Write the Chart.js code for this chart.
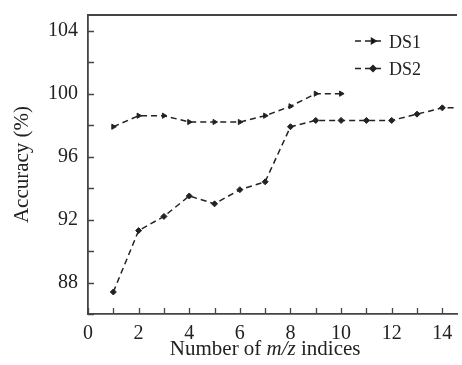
<!DOCTYPE html>
<html>
<head>
<meta charset="utf-8">
<script src="https://cdn.jsdelivr.net/npm/chart.js@4/dist/chart.umd.min.js"></script>
<style>
  html, body { margin: 0; padding: 0; background: #fff; }
  #wrap { width: 462px; height: 365px; }
</style>
</head>
<body>
<div id="wrap"><canvas id="chart" width="462" height="365"></canvas></div>
<script>
// Données
const xValues = [1, 2, 3, 4, 5, 6, 7, 8, 9, 10, 11, 12, 13, 14, 15];
const ds1Values = [97.9, 98.6, 98.6, 98.2, 98.2, 98.2, 98.6, 99.2, 100.0, 100.0];
const ds2Values = [87.4, 91.3, 92.2, 93.5, 93.0, 93.9, 94.4, 97.9, 98.3, 98.3, 98.3, 98.3, 98.7, 99.1, 99.1];
const seriesNames = ["DS1", "DS2"];
const yLabelTicks = [88, 92, 96, 100, 104];
const xLabelTicks = [0, 2, 4, 6, 8, 10, 12, 14];

const FONT = "'Liberation Serif', 'Times New Roman', serif";
const INK = "#222";

const toPoints = (vals) => vals.map((v, i) => ({ x: xValues[i], y: v }));

// Plugin : cadre du haut, graduations intérieures, légende et titre de l'axe x
const decorations = {
    id: "decorations",
    afterDraw(chart) {
        const ctx = chart.ctx;
        const area = chart.chartArea;
        const xs = chart.scales.x;
        const ys = chart.scales.y;
        ctx.save();
        ctx.strokeStyle = "#444";
        ctx.lineWidth = 1.8;
        ctx.beginPath();
        ctx.moveTo(area.left, area.top);
        ctx.lineTo(area.right, area.top);
        ctx.stroke();

        // graduations vers l'intérieur
        ctx.lineWidth = 1.3;
        ctx.beginPath();
        xs.ticks.forEach((t) => {
            const px = Math.round(xs.getPixelForValue(t.value)) + 0.5;
            ctx.moveTo(px, area.bottom);
            ctx.lineTo(px, area.bottom - 6);
        });
        ys.ticks.forEach((t) => {
            const py = Math.round(ys.getPixelForValue(t.value)) + 0.5;
            ctx.moveTo(area.left, py);
            ctx.lineTo(area.left + 6, py);
        });
        ctx.stroke();

        // légende
        chart.data.datasets.forEach((ds, i) => {
            const ly = 41 + i * 27.5;
            ctx.strokeStyle = INK;
            ctx.lineWidth = 1.5;
            ctx.setLineDash([6, 4]);
            ctx.beginPath();
            ctx.moveTo(355, ly);
            ctx.lineTo(383, ly);
            ctx.stroke();
            ctx.setLineDash([]);
            Chart.helpers.drawPoint(ctx, {
                pointStyle: ds.pointStyle,
                rotation: ds.pointRotation || 0,
                radius: 3,
                borderWidth: 1
            }, 373, ly);
            ctx.fillStyle = INK;
            ctx.font = "18px " + FONT;
            ctx.textAlign = "left";
            ctx.textBaseline = "alphabetic";
            ctx.fillText(ds.label, 389, ly + 6.5);
        });

        // titre de l'axe x avec m/z en italique
        const parts = [
            { text: "Number of ", font: "21px " + FONT },
            { text: "m/z", font: "italic 21px " + FONT },
            { text: " indices", font: "21px " + FONT }
        ];
        let total = 0;
        parts.forEach((p) => { ctx.font = p.font; p.w = ctx.measureText(p.text).width; total += p.w; });
        let cx = xs.getPixelForValue(7) - total / 2;
        ctx.fillStyle = INK;
        ctx.textAlign = "left";
        ctx.textBaseline = "alphabetic";
        parts.forEach((p) => {
            ctx.font = p.font;
            ctx.fillText(p.text, cx, 355);
            cx += p.w;
        });
        ctx.restore();
    }
};

const ctx = document.getElementById("chart").getContext("2d");
const chart = new Chart(ctx, {
    type: "line",
    data: {
        datasets: [{
            label: seriesNames[0],
            data: toPoints(ds1Values),
            borderColor: INK,
            backgroundColor: INK,
            borderWidth: 1.5,
            borderDash: [6, 4],
            pointStyle: "triangle",
            pointRotation: 90,
            pointRadius: 3,
            pointBorderWidth: 1,
            tension: 0
        }, {
            label: seriesNames[1],
            data: toPoints(ds2Values),
            borderColor: INK,
            backgroundColor: INK,
            borderWidth: 1.5,
            borderDash: [6, 4],
            pointStyle: "rectRot",
            pointRadius: 3,
            pointBorderWidth: 1,
            tension: 0
        }]
    },
    options: {
        responsive: false,
        animation: false,
        layout: { padding: { top: 15, right: 0, left: 0, bottom: 0 } },
        plugins: { legend: { display: false }, tooltip: { enabled: false } },
        scales: {
            x: {
                type: "linear",
                min: 0,
                max: 14.58,
                afterFit: (s) => { s.height = 51; s.paddingLeft = 0; s.paddingRight = 0; },
                grid: { display: false, drawTicks: false },
                border: { display: true, color: "#444", width: 1.8 },
                ticks: {
                    stepSize: 1,
                    includeBounds: false,
                    autoSkip: false,
                    maxRotation: 0,
                    padding: 8,
                    color: INK,
                    font: { family: FONT, size: 20 },
                    callback: (v) => xLabelTicks.includes(v) ? String(v) : ""
                }
            },
            y: {
                min: 86,
                max: 105,
                afterFit: (s) => { s.width = 88; s.paddingTop = 0; s.paddingBottom = 0; },
                grid: { display: false, drawTicks: false },
                border: { display: true, color: "#444", width: 1.8 },
                title: {
                    display: true,
                    text: "Accuracy (%)",
                    color: INK,
                    font: { family: FONT, size: 21 },
                    padding: { top: 10, bottom: 0 }
                },
                ticks: {
                    stepSize: 2,
                    includeBounds: false,
                    autoSkip: false,
                    padding: 10,
                    color: INK,
                    font: { family: FONT, size: 20 },
                    callback: (v) => yLabelTicks.includes(v) ? String(v) : ""
                }
            }
        }
    },
    plugins: [decorations]
});
</script>
</body>
</html>
